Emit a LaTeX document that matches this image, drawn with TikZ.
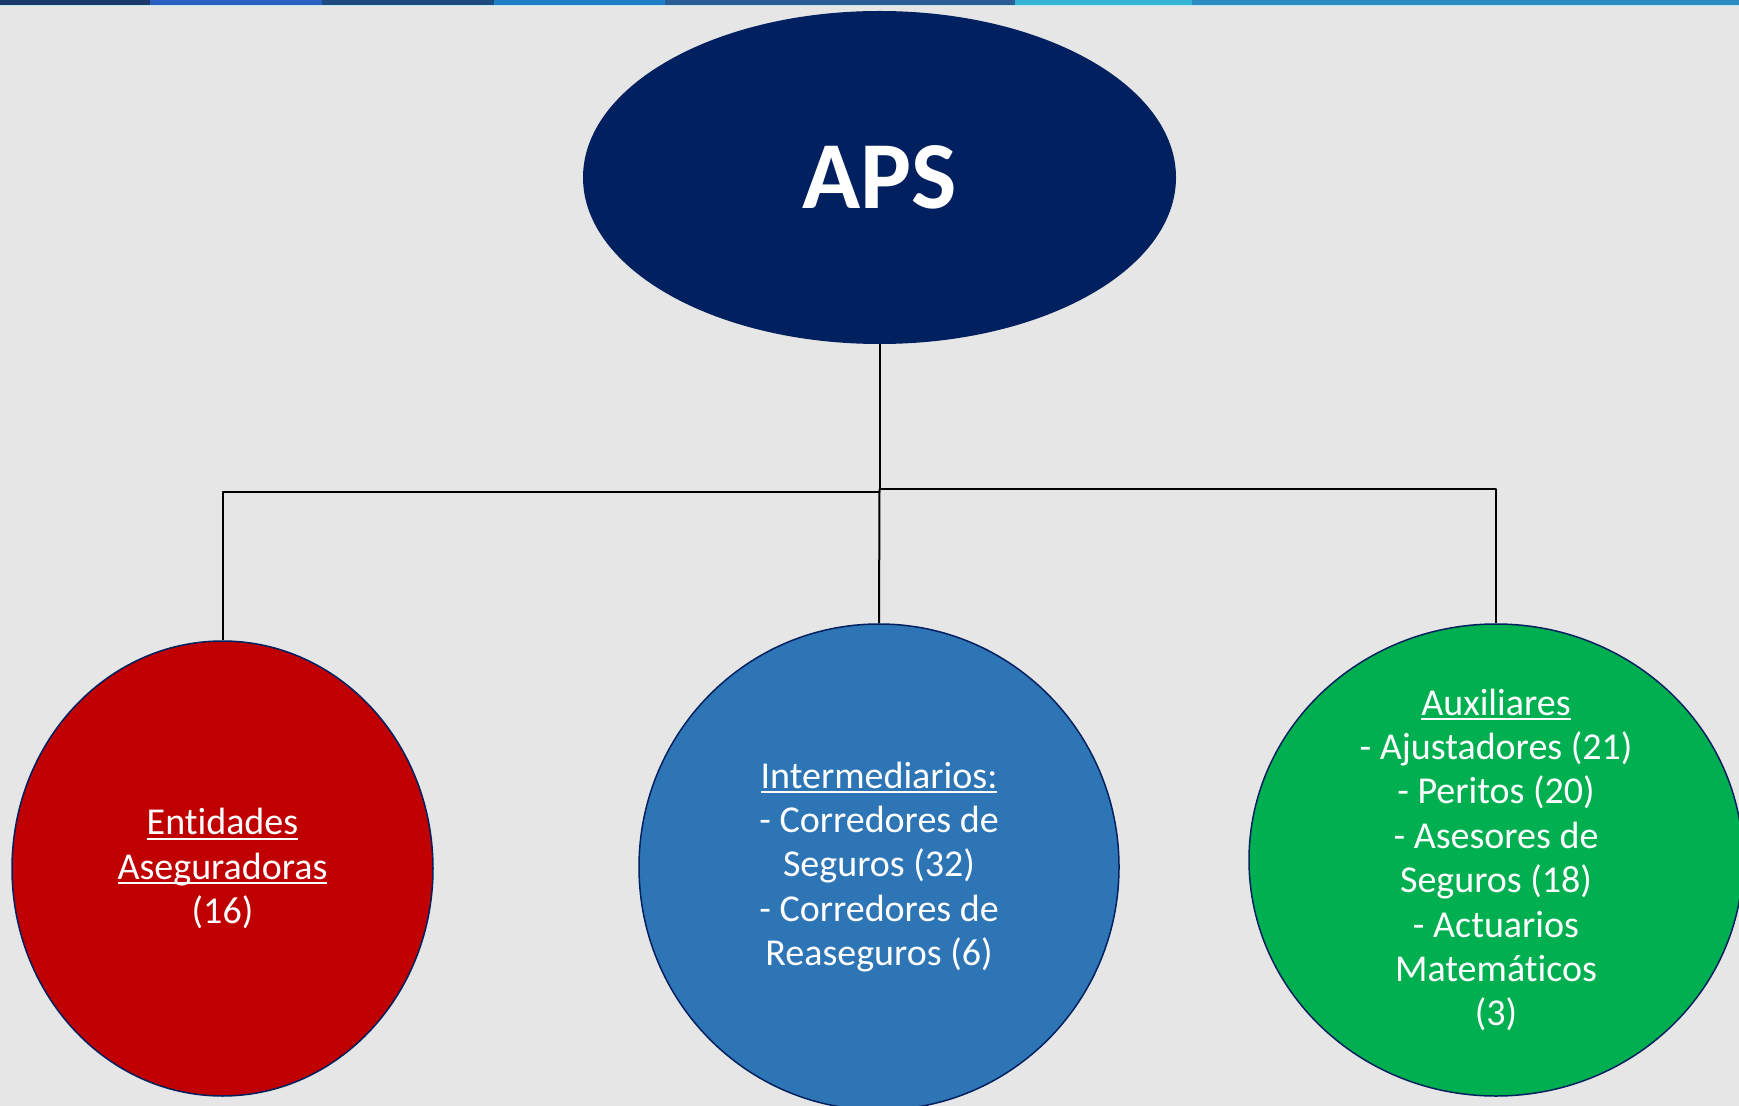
\documentclass[tikz,border=0pt]{standalone}
\usepackage{fontspec}
\setmainfont{Carlito}[Ligatures=NoCommon]
\usetikzlibrary{shapes.geometric}
\newcommand{\subrayar}[1]{\setbox0\hbox{#1}\rlap{\rule[-0.14em]{\wd0}{0.06em}}\box0}
\definecolor{fondo}{HTML}{E6E6E6}
\definecolor{marino}{HTML}{002060}
\definecolor{rojo}{HTML}{C00000}
\definecolor{azul}{HTML}{2E75B6}
\definecolor{verde}{HTML}{00B050}
\definecolor{franjaA}{HTML}{1B3A6B}
\definecolor{franjaB}{HTML}{2B5FC4}
\definecolor{franjaC}{HTML}{1E4A82}
\definecolor{franjaD}{HTML}{1F7FC8}
\definecolor{franjaE}{HTML}{2A5D96}
\definecolor{franjaF}{HTML}{35B5D5}
\definecolor{franjaG}{HTML}{2A8CC0}
\definecolor{franjaLuz}{HTML}{BFE8F0}
\begin{document}
\begin{tikzpicture}[x=0.5pt,y=-0.5pt,line join=round,
	circulo/.style={ellipse,draw=marino,line width=0.75pt,inner sep=-20pt,text=white,align=center,font=\fontsize{19}{22.2}\selectfont},
	enlace/.style={line width=1pt}]
	\fill[fondo] (0,0) rectangle (1739,1106);
	\useasboundingbox (0,0) rectangle (1739,1106);
	\fill[franjaLuz] (0,0) rectangle (1739,6.5);
	\foreach \a/\b/\c in {0/150/franjaA,150/322/franjaB,322/494/franjaC,494/665/franjaD,665/1015/franjaE,1015/1192/franjaF,1192/1739/franjaG}
		\fill[\c] (\a,0) rectangle (\b,5);
	\node[ellipse,fill=marino,inner sep=0pt,minimum width=296.5pt,minimum height=166.5pt,text=white,font=\bfseries\fontsize{48}{48}\selectfont] (aps) at (879.5,177.5) {APS};
	\node[circulo,fill=rojo,minimum width=210.5pt,minimum height=227.5pt] (entidades) at (222.5,868.5)
		{\subrayar{Entidades}\\\subrayar{Aseguradoras}\\(16)};
	\node[circulo,fill=azul,minimum width=240pt,minimum height=243pt] (intermediarios) at (879,867)
		{\subrayar{Intermediarios:}\\- Corredores de\\Seguros (32)\\- Corredores de\\Reaseguros (6)};
	\node[circulo,fill=verde,minimum width=247pt,minimum height=236pt] (auxiliares) at (1496,860)
		{\subrayar{Auxiliares}\\- Ajustadores (21)\\- Peritos (20)\\- Asesores de\\Seguros (18)\\- Actuarios\\Matemáticos\\(3)};
	\coordinate (nudoD) at (879.5,489);
	\coordinate (nudoI) at (879.5,492);
	\draw[enlace] (aps.south) -- (nudoD) -| (auxiliares.north);
	\draw[enlace] (nudoI) -| (entidades.north);
	\draw[enlace] (nudoD) -- (intermediarios.north);
\end{tikzpicture}
\end{document}
